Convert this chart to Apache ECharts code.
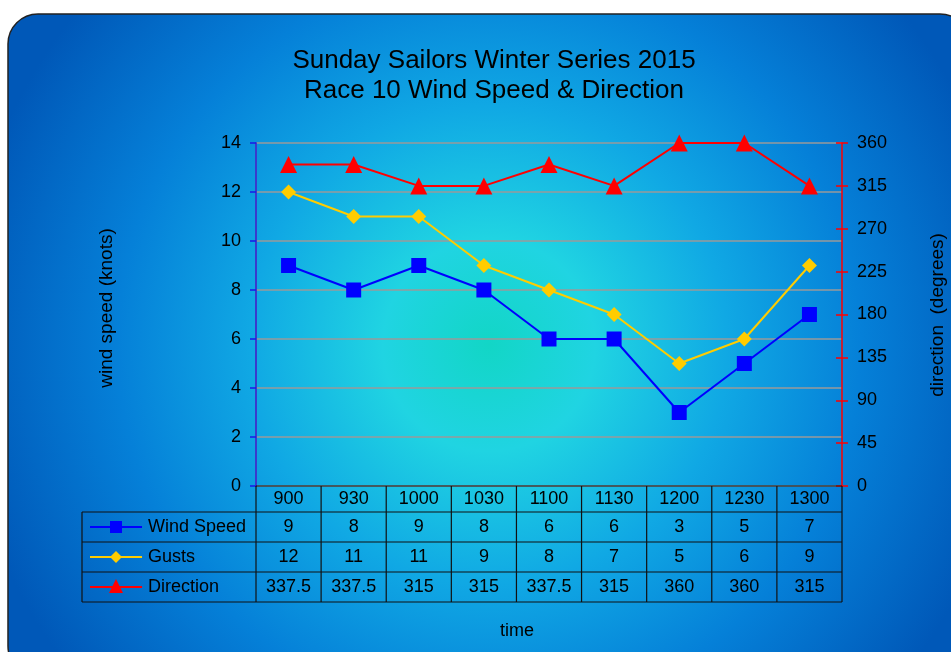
<!DOCTYPE html>
<html>
<head>
    <meta charset="utf-8">
    <script src="https://cdn.jsdelivr.net/npm/echarts@6/dist/echarts.min.js"></script>
    <title>Sunday Sailors Winter Series 2015</title>
    <style>
        html, body { margin: 0; padding: 0; background: #fff; }
        #main { width: 951px; height: 652px; }
    </style>
</head>
<body>
    <div id="main"></div>
    <script type="text/javascript">
        var times = ['900', '930', '1000', '1030', '1100', '1130', '1200', '1230', '1300'];
        var windSpeed = [9, 8, 9, 8, 6, 6, 3, 5, 7];
        var gusts = [12, 11, 11, 9, 8, 7, 5, 6, 9];
        var direction = [337.5, 337.5, 315, 315, 337.5, 315, 360, 360, 315];

        var font = '"Liberation Sans", Arial, sans-serif';

        // plot area (px)
        var gl = 256, gt = 143, gw = 586, gh = 343;
        var cellW = gw / times.length;
        var rowTop = [486, 512, 542, 572, 602];
        var tableLeft = 82;

        var myChart = echarts.init(document.getElementById('main'));

        var rows = [
            { name: 'Wind Speed', data: windSpeed, color: '#0000ff', symbol: 'rect', size: 15 },
            { name: 'Gusts', data: gusts, color: '#ffcc00', symbol: 'diamond', size: 15 },
            { name: 'Direction', data: direction, color: '#ff0000', symbol: 'triangle', size: 17 }
        ];

        var graphics = [{
            type: 'rect',
            z: -10,
            shape: { x: 8, y: 14, width: 962, height: 662, r: 30 },
            style: {
                fill: {
                    type: 'radial', x: 0.5, y: 0.5, r: 0.8,
                    colorStops: [
                        { offset: 0, color: '#12d6c6' },
                        { offset: 0.2, color: '#20d4e2' },
                        { offset: 0.45, color: '#10a8e4' },
                        { offset: 0.7, color: '#0580d8' },
                        { offset: 1, color: '#0058b8' }
                    ]
                },
                stroke: '#222', lineWidth: 1.5
            }
        }, {
            type: 'text', z: 7, x: 517, y: 631,
            style: { text: 'time', font: '18px ' + font, fill: '#000', align: 'center', verticalAlign: 'middle' }
        }, {
            type: 'text', z: 7, x: 107, y: 308, rotation: Math.PI / 2,
            style: { text: 'wind speed (knots)', font: '19px ' + font, fill: '#000', align: 'center', verticalAlign: 'middle' }
        }, {
            type: 'text', z: 7, x: 938, y: 315, rotation: Math.PI / 2,
            style: { text: 'direction  (degrees)', font: '19px ' + font, fill: '#000', align: 'center', verticalAlign: 'middle' }
        }];

        // table grid lines
        var lines = [];
        lines.push([gl, rowTop[0], gl + gw, rowTop[0]]);
        for (var r = 1; r < rowTop.length; r++) lines.push([tableLeft, rowTop[r], gl + gw, rowTop[r]]);
        lines.push([tableLeft, rowTop[1], tableLeft, rowTop[4]]);
        for (var c = 0; c <= times.length; c++) lines.push([gl + c * cellW, rowTop[0], gl + c * cellW, rowTop[4]]);
        lines.forEach(function (l) {
            graphics.push({
                type: 'line', z: 5,
                shape: { x1: l[0], y1: l[1], x2: l[2], y2: l[3] },
                style: { stroke: '#111', lineWidth: 1.2 }
            });
        });

        // table body
        rows.forEach(function (row, ri) {
            var cy = (rowTop[ri + 1] + rowTop[ri + 2]) / 2;
            graphics.push({
                type: 'line', z: 6,
                shape: { x1: 90, y1: cy, x2: 142, y2: cy },
                style: { stroke: row.color, lineWidth: 2 }
            });
            if (row.symbol === 'rect') {
                graphics.push({ type: 'rect', z: 7, shape: { x: 110, y: cy - 6, width: 12, height: 12 }, style: { fill: row.color } });
            } else if (row.symbol === 'diamond') {
                graphics.push({ type: 'polygon', z: 7, shape: { points: [[116, cy - 6], [122, cy], [116, cy + 6], [110, cy]] }, style: { fill: row.color } });
            } else {
                graphics.push({ type: 'polygon', z: 7, shape: { points: [[116, cy - 8], [123, cy + 6], [109, cy + 6]] }, style: { fill: row.color } });
            }
            graphics.push({
                type: 'text', z: 7, x: 148, y: cy,
                style: { text: row.name, font: '18px ' + font, fill: '#000', verticalAlign: 'middle' }
            });
            row.data.forEach(function (v, i) {
                graphics.push({
                    type: 'text', z: 7, x: gl + (i + 0.5) * cellW, y: cy,
                    style: { text: String(v), font: '18px ' + font, fill: '#000', align: 'center', verticalAlign: 'middle' }
                });
            });
        });

        myChart.setOption({
            animation: false,
            textStyle: { fontFamily: font },
            title: {
                text: 'Sunday Sailors Winter Series 2015\nRace 10 Wind Speed & Direction',
                left: 489, top: 41, textAlign: 'center',
                textStyle: { fontSize: 26, fontWeight: 'normal', color: '#000', lineHeight: 30, fontFamily: font }
            },
            grid: { left: gl, top: gt, width: gw, height: gh, containLabel: false, outerBoundsMode: 'none' },
            xAxis: {
                type: 'category',
                data: times,
                axisLine: { show: false },
                axisTick: { show: false },
                axisLabel: { color: '#000', fontSize: 18, margin: 4 }
            },
            yAxis: [{
                type: 'value',
                min: 0, max: 14, interval: 2,
                axisLine: { show: true, lineStyle: { color: '#3a3acc', width: 2 } },
                axisTick: { show: true, length: 6, lineStyle: { color: '#1a1ae6', width: 1.5 } },
                axisLabel: { color: '#000', fontSize: 18, margin: 15 },
                splitLine: { show: true, lineStyle: { color: '#9a9a9a', width: 1.5 } }
            }, {
                type: 'value',
                position: 'right',
                min: 0, max: 360, interval: 45,
                axisLine: { show: true, lineStyle: { color: '#ff0000', width: 1.5 } },
                axisTick: { show: true, length: 6, lineStyle: { color: '#ff0000', width: 1.5 } },
                axisLabel: { color: '#000', fontSize: 18, margin: 15 },
                splitLine: { show: false }
            }, {
                // inner half of the crossing ticks on the direction axis
                type: 'value',
                position: 'right',
                min: 0, max: 360, interval: 45,
                axisLine: { show: false },
                axisTick: { show: true, inside: true, length: 6, lineStyle: { color: '#ff0000', width: 1.5 } },
                axisLabel: { show: false },
                splitLine: { show: false }
            }],
            series: rows.map(function (row, ri) {
                return {
                    name: row.name,
                    type: 'line',
                    yAxisIndex: ri === 2 ? 1 : 0,
                    data: row.data,
                    symbol: row.symbol,
                    symbolSize: row.size,
                    lineStyle: { color: row.color, width: 2 },
                    itemStyle: { color: row.color },
                    z: 3 + ri
                };
            }),
            graphic: graphics
        });
    </script>
</body>
</html>
